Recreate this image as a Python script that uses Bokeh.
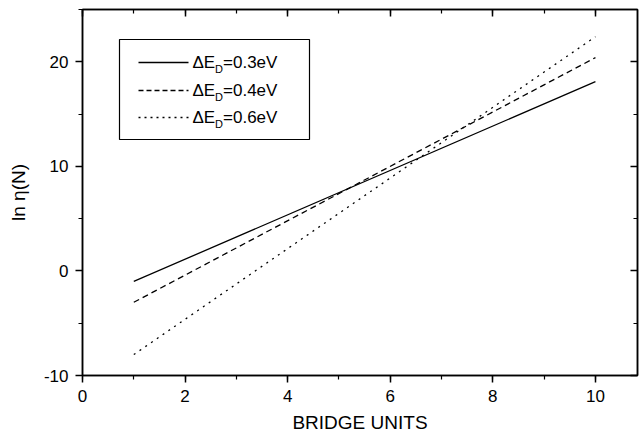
from bokeh.plotting import figure
from bokeh.models import LinearAxis, BoxAnnotation, FixedTicker, Range1d
from bokeh.core.properties import value
from bokeh.embed import file_html
from bokeh.resources import INLINE

# ---- data ----
bridge_units = [1, 10]
ln_eta_03 = [-1.0, 18.1]
ln_eta_04 = [-3.0, 20.4]
ln_eta_06 = [-8.0, 22.4]
series_labels = ["=0.3eV", "=0.4eV", "=0.6eV"]
x_ticks = [0, 2, 4, 6, 8, 10]
y_ticks = [-10, 0, 10, 20]

FONT = "Liberation Sans"
X0, X1 = 0, 10.82
Y0, Y1 = -10, 25

p = figure(width=644, height=437, output_backend="svg", toolbar_location=None,
           x_range=Range1d(X0, X1), y_range=Range1d(Y0, Y1),
           min_border_left=82, min_border_right=7, min_border_top=9,
           min_border_bottom=62)
p.xgrid.visible = False
p.ygrid.visible = False
p.outline_line_color = "black"
p.outline_line_width = 1.5
p.background_fill_color = "white"
p.border_fill_color = "white"

# frame geometry in page pixels (for legend placement helper)
FL, FR, FT, FB = 82, 637, 9, 375

def px_x(X):
    return X0 + (X - FL) / (FR - FL) * (X1 - X0)

def px_y(Y):
    return Y1 - (Y - FT) / (FB - FT) * (Y1 - Y0)

def style_axis(ax, ticks, outward=True, labels=True):
    ax.axis_line_width = 1.5
    ax.axis_line_color = "black"
    ax.major_tick_line_width = 1.5
    ax.minor_tick_line_width = 1.2
    ax.major_tick_line_color = "black"
    ax.minor_tick_line_color = "black"
    if outward:
        ax.major_tick_out = 7
        ax.major_tick_in = 0
        ax.minor_tick_out = 4
        ax.minor_tick_in = 0
    else:
        ax.major_tick_out = 0
        ax.major_tick_in = 7
        ax.minor_tick_out = 0
        ax.minor_tick_in = 4
    if labels:
        ax.major_label_text_font = FONT
        ax.major_label_text_font_size = "17px"
        ax.major_label_text_color = "black"
        ax.major_label_standoff = 7
        ax.major_label_overrides = {t: str(t) for t in ticks}
    else:
        ax.major_label_text_font_size = "0px"
        ax.major_label_text_color = None
        ax.major_label_standoff = 0
        ax.major_label_overrides = {t: "" for t in ticks}

xt = FixedTicker(ticks=x_ticks, minor_ticks=list(range(0, 12)))
yt = FixedTicker(ticks=y_ticks, minor_ticks=list(range(-10, 26, 5)))

p.xaxis.ticker = xt
p.yaxis.ticker = yt
style_axis(p.xaxis[0], x_ticks)
style_axis(p.yaxis[0], y_ticks)
p.xaxis.axis_label = "BRIDGE UNITS"
p.yaxis.axis_label = "ln η(N)"
for ax in (p.xaxis[0], p.yaxis[0]):
    ax.axis_label_text_font = FONT
    ax.axis_label_text_font_size = "19px"
    ax.axis_label_text_font_style = "normal"
    ax.axis_label_text_color = "black"
p.xaxis.axis_label_standoff = 7
p.yaxis.axis_label_standoff = 12

top = LinearAxis(ticker=xt)
style_axis(top, x_ticks, outward=False, labels=False)
p.add_layout(top, "above")
right = LinearAxis(ticker=yt)
style_axis(right, y_ticks, outward=False, labels=False)
p.add_layout(right, "right")

# ---- data lines ----
p.line(bridge_units, ln_eta_03, line_color="black", line_width=1.3)
p.line(bridge_units, ln_eta_04, line_color="black", line_width=1.3, line_dash="6 4")
p.line(bridge_units, ln_eta_06, line_color="black", line_width=1.3, line_dash="2 5")

# ---- legend (manual, for the subscript D) ----
box = BoxAnnotation(left=px_x(119), right=px_x(309), top=px_y(39), bottom=px_y(139),
                    fill_color=None, line_color="black", line_alpha=1.0, line_width=1.2)
p.add_layout(box)

rows = [62, 90, 117]
dashes = ["solid", "5 3", "2 4"]
fs = 17
w_dE = 0.66 * fs + 0.667 * fs
for Yr, dash, lab in zip(rows, dashes, series_labels):
    p.line([px_x(138), px_x(188)], [px_y(Yr), px_y(Yr)], line_color="black",
           line_width=1.3, line_dash=dash)
    p.text(x=[px_x(192)], y=[px_y(Yr)], text=["ΔE"], text_font=value(FONT),
           text_font_size=f"{fs}px", text_baseline="middle", text_align="left",
           text_color="black")
    p.text(x=[px_x(192 + w_dE)], y=[px_y(Yr + 6)], text=["D"], text_font=value(FONT),
           text_font_size="11px", text_baseline="middle", text_align="left",
           text_color="black")
    p.text(x=[px_x(192 + w_dE + 8)], y=[px_y(Yr)], text=[lab], text_font=value(FONT),
           text_font_size=f"{fs}px", text_baseline="middle", text_align="left",
           text_color="black")

open("out.html", "w").write(file_html(p, INLINE))
